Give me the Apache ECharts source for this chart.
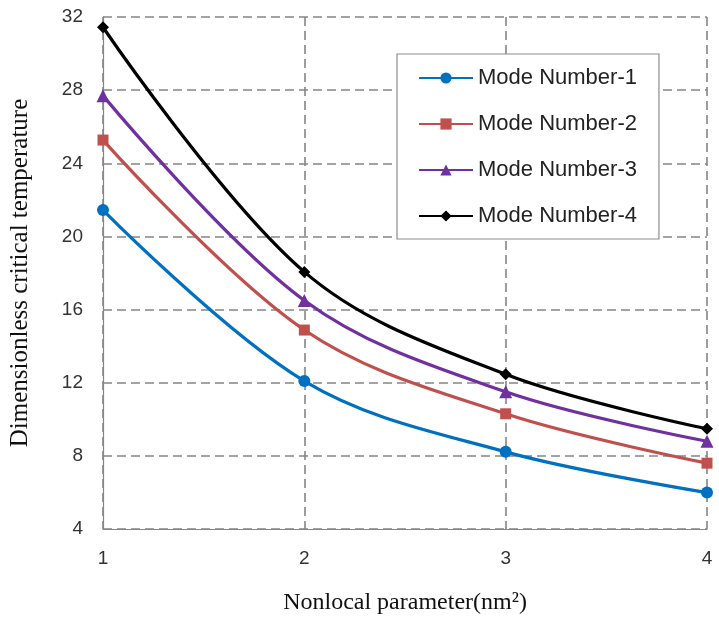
<!DOCTYPE html>
<html>
<head>
<meta charset="utf-8">
<script src="https://cdn.jsdelivr.net/npm/echarts@6/dist/echarts.min.js"></script>
<style>
html,body{margin:0;padding:0;background:#fff;}
#chart{width:719px;height:620px;}
</style>
</head>
<body>
<div id="chart"></div>
<script>
var xValues = [1, 2, 3, 4];
var mode1 = [21.44, 12.09, 8.22, 5.99];
var mode2 = [25.27, 14.88, 10.3, 7.6];
var mode3 = [27.7, 16.5, 11.5, 8.8];
var mode4 = [31.44, 18.06, 12.46, 9.48];
var seriesNames = ['Mode Number-1', 'Mode Number-2', 'Mode Number-3', 'Mode Number-4'];
var seriesColors = ['#0070C0', '#C0504D', '#7030A0', '#000000'];
var seriesSymbols = ['circle', 'rect', 'triangle', 'diamond'];
var seriesSymbolSizes = [12, 11, 13, 12];
var allValues = [mode1, mode2, mode3, mode4];

function pairs(vals) {
  return xValues.map(function (x, i) { return [x, vals[i]]; });
}

var chart = echarts.init(document.getElementById('chart'));
var gridLine = { show: true, lineStyle: { color: '#858585', width: 1.6, type: [9, 5] } };
var option = {
  animation: false,
  backgroundColor: '#ffffff',
  grid: { left: 98, right: 12, top: 17, bottom: 84, containLabel: false },
  legend: {
    orient: 'vertical',
    left: 397,
    top: 54,
    padding: [13, 22, 12, 21],
    itemWidth: 54,
    itemHeight: 14,
    itemGap: 24,
    backgroundColor: '#ffffff',
    borderColor: '#8c8c8c',
    borderWidth: 1.2,
    textStyle: { fontFamily: 'Liberation Sans, Arial, sans-serif', fontSize: 22, color: '#222' },
    data: seriesNames
  },
  xAxis: {
    type: 'value',
    min: 1, max: 4, interval: 1,
    name: 'Nonlocal parameter(nm\u00B2)',
    nameLocation: 'middle',
    nameGap: 62,
    nameTextStyle: { fontFamily: 'Liberation Serif, Times New Roman, serif', fontSize: 24, color: '#111' },
    axisLine: { show: true, lineStyle: { color: '#868686', width: 1.2 } },
    axisTick: { show: false },
    axisLabel: { margin: 20, fontFamily: 'Liberation Sans, Arial, sans-serif', fontSize: 19, color: '#333' },
    splitLine: gridLine
  },
  yAxis: {
    type: 'value',
    min: 4, max: 32, interval: 4,
    name: 'Dimensionless critical temperature',
    nameLocation: 'middle',
    nameGap: 70,
    nameTextStyle: { fontFamily: 'Liberation Serif, Times New Roman, serif', fontSize: 25, color: '#111' },
    axisLine: { show: true, lineStyle: { color: '#868686', width: 1.2 } },
    axisTick: { show: false },
    axisLabel: { margin: 20, fontFamily: 'Liberation Sans, Arial, sans-serif', fontSize: 19, color: '#333' },
    splitLine: gridLine
  },
  series: allValues.map(function (vals, i) {
    return {
      name: seriesNames[i],
      type: 'line',
      data: pairs(vals),
      smooth: 0.35,
      symbol: seriesSymbols[i],
      symbolSize: seriesSymbolSizes[i],
      showAllSymbol: true,
      lineStyle: { color: seriesColors[i], width: 3.2 },
      itemStyle: { color: seriesColors[i] },
      z: 2 + i
    };
  })
};
chart.setOption(option);
</script>
</body>
</html>
